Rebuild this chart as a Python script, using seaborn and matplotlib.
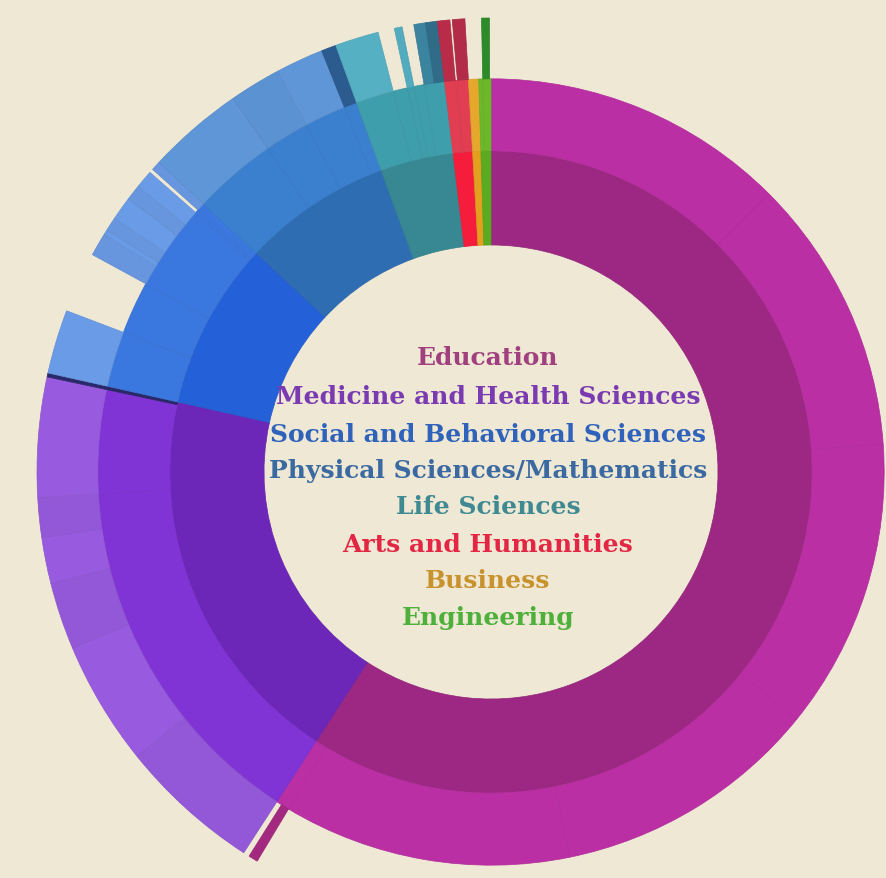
import numpy as np
import matplotlib
matplotlib.use("Agg")
import matplotlib.pyplot as plt
import matplotlib.colors as mcolors
import seaborn as sns

# Categories (inner ring), in drawing order
categories = ["Education", "Medicine and Health Sciences", "Social and Behavioral Sciences",
              "Physical Sciences/Mathematics", "Life Sciences", "Arts and Humanities",
              "Business", "Engineering"]

# Second ring: parent category index and size
level2_parent = [0, 0, 0, 0, 0, 0,
                 1, 1, 1,
                 2, 2, 2, 2, 2,
                 3, 3, 3, 3,
                 4, 4, 4, 4, 4,
                 5, 5, 5,
                 6,
                 7, 7]
level2_value = [45, 41, 43, 39.5, 42.5, 2.0,
                53.8, 15.3, 0.5,
                8.2, 7.8, 12.7, 0.5, 1.2,
                12.4, 6.6, 6.1, 1.9,
                5.6, 2.1, 1.0, 1.5, 3.0,
                1.6, 0.3, 1.6,
                1.5,
                0.6, 1.2]

# Outer ring: parent index into the second ring and size
level3_parent = [5,
                 6, 6, 6, 6, 6, 7, 8,
                 9, 11, 11, 11, 11, 11, 11, 13,
                 14, 15, 16, 17,
                 18, 20, 22, 22,
                 23, 25,
                 28]
level3_value = [1.2,
                18.3, 15.9, 8.6, 5.9, 5.1, 15.3, 0.5,
                8.2, 3.0, 0.6, 1.8, 3.0, 2.0, 2.3, 1.2,
                12.4, 6.6, 6.1, 1.9,
                5.6, 1.0, 1.5, 1.5,
                1.6, 1.6,
                1.0]

# colours per category: inner, middle, outer ring
ring_colors = [
    ["#9c2883", "#bb2fa5", "#a3287f"],
    ["#6c27b8", "#8034d6", "#985bdf"],
    ["#2461d8", "#3a78df", "#6a9be6"],
    ["#2f6db3", "#3a80cf", "#5e96d8"],
    ["#378892", "#3f9eac", "#55b0c4"],
    ["#f51c3c", "#e23e52", "#b82c4a"],
    ["#e2a01e", "#e6a82c", "#e6a82c"],
    ["#5aab1f", "#6cb82a", "#2c8a28"],
]
text_colors = ["#a0407f", "#7a3ab2", "#2f62bb", "#3b6aa2", "#3f8a92", "#e22644", "#c8922c", "#4cb03a"]
l2_override = {8: "#2a2868"}
l3_override = {7: "#2b2a6e", 19: "#2d5e93", 22: "#3b84a0", 23: "#316f8c"}
bg = "#efe8d4"

sns.set_style("white")
plt.rcParams["font.family"] = ["DejaVu Serif"]


def shade(c, f):
    r, g, b = mcolors.to_rgb(c)
    return (r * f, g * f, b * f)


# angular layout
total = sum(level2_value)
to_rad = 2 * np.pi / total
l2_start = np.concatenate([[0], np.cumsum(level2_value)[:-1]])
l1_value = [sum(v for p, v in zip(level2_parent, level2_value) if p == i) for i in range(len(categories))]
l1_start = np.concatenate([[0], np.cumsum(l1_value)[:-1]])
l3_start = []
used = {}
for p, v in zip(level3_parent, level3_value):
    l3_start.append(l2_start[p] + used.get(p, 0))
    used[p] = used.get(p, 0) + v

k = 227  # radius unit, rings follow sqrt(depth)

fig = plt.figure(figsize=(8.87, 8.79), dpi=100, facecolor=bg)
R = 470
cx, cy = 491, 879 - 473
ax = fig.add_axes([(cx - R) / 887, (cy - R) / 879, 2 * R / 887, 2 * R / 879], projection="polar")
ax.set_theta_zero_location("N")
ax.set_theta_direction(-1)
ax.set_ylim(0, R)
ax.set_axis_off()


def ring(starts, values, depth, colors):
    r0, r1 = k * np.sqrt(depth), k * np.sqrt(depth + 1)
    ax.bar(np.array(starts) * to_rad, r1 - r0, width=np.array(values) * to_rad, bottom=r0,
           align="edge", color=colors, edgecolor=[shade(c, 0.94) for c in colors], linewidth=0.5)


c1 = [ring_colors[i][0] for i in range(len(categories))]
ring(l1_start, l1_value, 1, c1)

c2 = []
for i, p in enumerate(level2_parent):
    c2.append(l2_override.get(i, ring_colors[p][1]))
ring(l2_start, level2_value, 2, c2)

c3 = []
for i, p in enumerate(level3_parent):
    cat = level2_parent[p]
    base = l3_override.get(i, ring_colors[cat][2])
    c3.append(shade(base, 0.97 if i % 2 else 1.0))
ring(l3_start, level3_value, 3, c3)

# centre legend
line_y = [358, 397, 435, 471, 507, 545, 581, 618]
for name, y, col in zip(categories, line_y, text_colors):
    fig.text(488 / 887, 1 - y / 879, name, ha="center", va="center", fontsize=18,
             fontweight="bold", color=col)

fig.savefig("out.png", dpi=100, facecolor=bg)
plt.close(fig)
